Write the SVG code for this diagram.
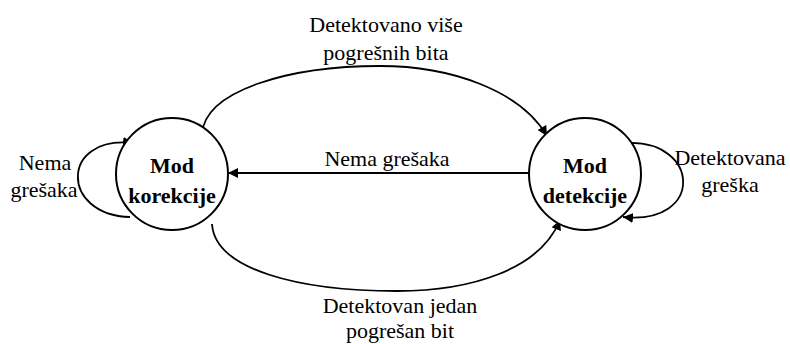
<svg xmlns="http://www.w3.org/2000/svg" width="790" height="344" viewBox="0 0 790 344">
<defs>
<marker id="arr" viewBox="0 0 10 10" refX="10" refY="5" markerWidth="10" markerHeight="10" markerUnits="userSpaceOnUse" orient="auto">
<path d="M0,0 L10,5 L0,10 Z" fill="#000"/>
</marker>
<style>
.node{fill:#fff;stroke:#000;stroke-width:2}
.edge{fill:none;stroke:#000;stroke-width:1.8;marker-end:url(#arr)}
.lbl{font-family:'Liberation Serif','Times New Roman','DejaVu Serif',serif;font-size:22px;fill:#000;text-anchor:middle}
.nl{font-family:'Liberation Serif','Times New Roman','DejaVu Serif',serif;font-size:22px;font-weight:bold;fill:#000;text-anchor:middle}
</style>
</defs>
<rect width="790" height="344" fill="#fff"/>
<g id="connectors">
<path class="edge" d="M202,134 C205,90 290,66 380,66 C450,66 520,90 547,136"/>
<path class="edge" d="M212,224 C215,270 300,291 397,291 C470,291 540,270 560,220"/>
<path class="edge" d="M529,173 L228,173"/>
<path class="edge" d="M130,217 C60,215 60,135 133,143"/>
<path class="edge" d="M627,143 C700,140 705,225 623,217"/>
<text class="lbl" x="386" y="32" font-family="Liberation Serif, serif">Detektovano više</text>
<text class="lbl" x="386" y="60" font-family="Liberation Serif, serif">pogrešnih bita</text>
<text class="lbl" x="387" y="166" font-family="Liberation Serif, serif">Nema grešaka</text>
<text class="lbl" x="400" y="313" font-family="Liberation Serif, serif">Detektovan jedan</text>
<text class="lbl" x="400" y="338" font-family="Liberation Serif, serif">pogrešan bit</text>
<text class="lbl" x="45" y="170" font-family="Liberation Serif, serif">Nema</text>
<text class="lbl" x="44" y="197" font-family="Liberation Serif, serif">grešaka</text>
<text class="lbl" x="730" y="165" font-family="Liberation Serif, serif">Detektovana</text>
<text class="lbl" x="730" y="192" font-family="Liberation Serif, serif">greška</text>
</g>
<g id="korekcija">
<circle class="node" cx="172" cy="174" r="56"/>
<text class="nl" x="172" y="173" font-family="Liberation Serif, serif">Mod</text>
<text class="nl" x="172" y="203" font-family="Liberation Serif, serif">korekcije</text>
</g>
<g id="detekcija">
<circle class="node" cx="585" cy="174" r="56"/>
<text class="nl" x="585" y="173" font-family="Liberation Serif, serif">Mod</text>
<text class="nl" x="585" y="203" font-family="Liberation Serif, serif">detekcije</text>
</g>
</svg>
